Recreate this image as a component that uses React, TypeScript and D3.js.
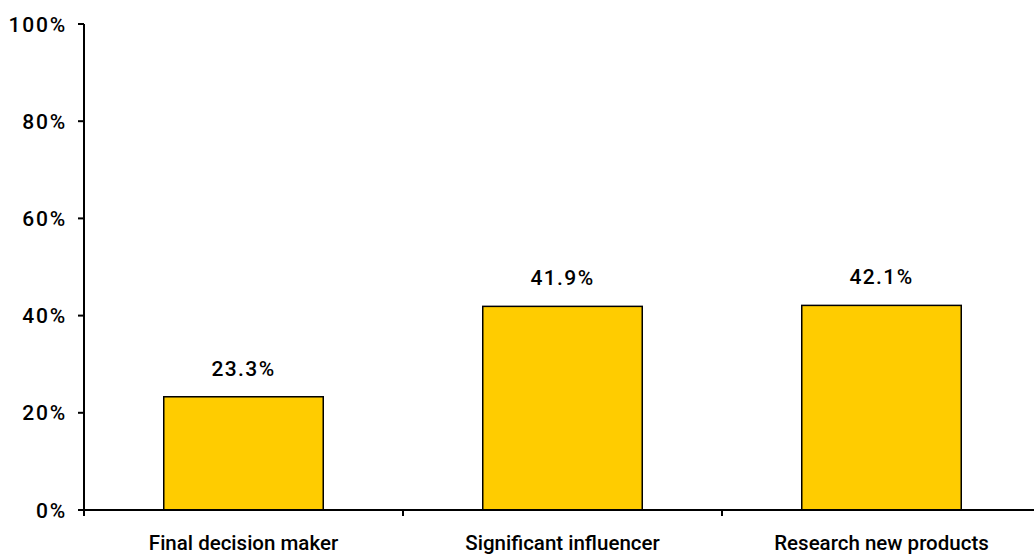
import React from "react";
import * as d3 from "d3";

const categories = ["Final decision maker", "Significant influencer", "Research new products"];
const values = [0.233, 0.419, 0.421];
const yTicks = [0, 0.2, 0.4, 0.6, 0.8, 1.0];

export default function App() {
  const W = 1034, H = 554;
  const left = 84, bottom = 510, top = 24;
  const x = d3.scaleBand<string>().domain(categories).range([left, left + 957]).paddingInner(0.5).paddingOuter(0.25);
  const y = d3.scaleLinear().domain([0, 1]).range([bottom, top]);
  const step = x.step();
  const font = "Roboto, 'Liberation Sans', Arial, sans-serif";
  const boundaries = d3.range(categories.length + 1).map(i => left + i * step);
  return (
    <svg width={W} height={H} style={{ position: "absolute", left: 0, top: 0 }} fontFamily={font} fontWeight={500}>
      <rect width={W} height={H} fill="#fff" />
      {categories.map((c, i) => (
        <g key={c}>
          <rect x={x(c)} y={y(values[i])} width={x.bandwidth()} height={bottom - y(values[i])}
            fill="#FFCC00" stroke="#000" strokeWidth={1.5} />
          <text x={x(c)! + x.bandwidth() / 2} y={y(values[i]) - 21} textAnchor="middle" fontSize={21} letterSpacing={1.4} fill="#000">
            {(values[i] * 100).toFixed(1) + "%"}
          </text>
          <text x={x(c)! + x.bandwidth() / 2} y={550} textAnchor="middle" fontSize={20.5} fill="#000">{c}</text>
        </g>
      ))}
      <line x1={left} x2={left} y1={top} y2={bottom} stroke="#000" strokeWidth={2} />
      {yTicks.map(t => (
        <g key={t}>
          <line x1={left - 6} x2={left} y1={y(t)} y2={y(t)} stroke="#000" strokeWidth={2} />
          <text x={left - 17} y={y(t) + 7.5} textAnchor="end" fontSize={21} letterSpacing={1.8} fill="#000">{Math.round(t * 100) + "%"}</text>
        </g>
      ))}
      <line x1={left - 6} x2={W} y1={bottom} y2={bottom} stroke="#000" strokeWidth={2} />
      {boundaries.map(b => (
        <line key={b} x1={b} x2={b} y1={bottom} y2={bottom + 6} stroke="#000" strokeWidth={2} />
      ))}
    </svg>
  );
}
